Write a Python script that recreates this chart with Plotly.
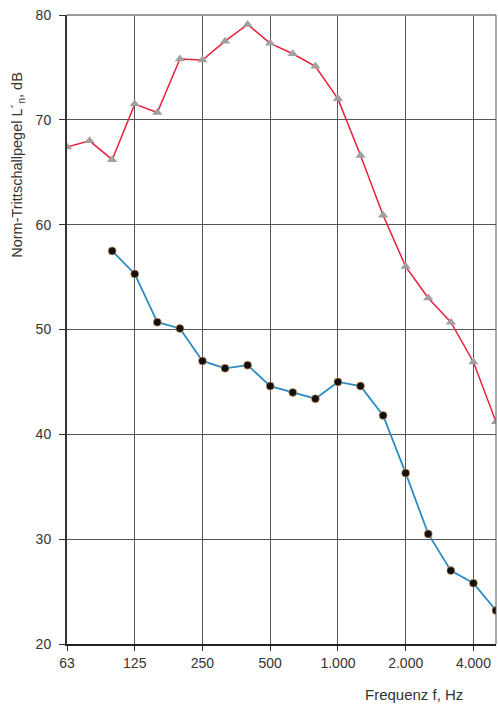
import plotly.graph_objects as go

bands = ["63", "80", "100", "125", "160", "200", "250", "315", "400", "500",
         "630", "800", "1.000", "1.250", "1.600", "2.000", "2.500", "3.150", "4.000", "5.000"]

red_values = [67.4, 68.0, 66.2, 71.5, 70.7, 75.8, 75.7, 77.5, 79.1, 77.3,
              76.3, 75.1, 72.0, 66.6, 60.9, 56.0, 53.0, 50.7, 46.9, 41.2]

blue_values = [None, None, 57.5, 55.3, 50.7, 50.1, 47.0, 46.3, 46.6, 44.6,
               44.0, 43.4, 45.0, 44.6, 41.8, 36.3, 30.5, 27.0, 25.8, 23.2]

tick_labels = ["63", "125", "250", "500", "1.000", "2.000", "4.000"]
tick_idx = [bands.index(t) for t in tick_labels]
y_ticks = [20, 30, 40, 50, 60, 70, 80]

x_idx = list(range(len(bands)))
FONT = "Liberation Sans, Arial, sans-serif"

fig = go.Figure()
fig.add_trace(go.Scatter(
    x=x_idx, y=red_values, mode="lines+markers",
    line=dict(color="#e8203a", width=1.5),
    marker=dict(symbol="triangle-up", size=9, color="#a0a0a0",
                line=dict(width=0)),
    cliponaxis=True, showlegend=False))
fig.add_trace(go.Scatter(
    x=x_idx, y=blue_values, mode="lines+markers",
    line=dict(color="#2b8cc4", width=1.8),
    marker=dict(symbol="circle", size=8, color="#111111",
                line=dict(width=1, color="rgba(245,170,90,0.6)")),
    connectgaps=False, cliponaxis=True, showlegend=False))

fig.update_layout(
    width=498, height=708,
    margin=dict(l=67, r=2, t=15, b=64),
    paper_bgcolor="white", plot_bgcolor="white",
    font=dict(family=FONT, size=14, color="#333333"),
    xaxis=dict(
        range=[0, len(bands) - 1], tickmode="array",
        tickvals=tick_idx, ticktext=tick_labels,
        showgrid=True, gridcolor="#555555", gridwidth=1,
        showline=True, linecolor="#222222", linewidth=2,
        ticks="outside", ticklen=5, tickcolor="#333333",
        tickfont=dict(size=14, color="#333333"),
        zeroline=False),
    yaxis=dict(
        range=[20, 80], tickmode="array", tickvals=y_ticks,
        showgrid=True, gridcolor="#555555", gridwidth=1,
        showline=True, linecolor="#333333", linewidth=2,
        ticks="outside", ticklen=6, tickcolor="#333333",
        ticklabelstandoff=5,
        tickfont=dict(size=14, color="#333333"),
        zeroline=False),
    shapes=[
        dict(type="line", xref="paper", yref="paper", x0=0, x1=1, y0=1, y1=1,
             line=dict(color="#9a9a9a", width=2)),
        dict(type="line", xref="paper", yref="paper", x0=1, x1=1, y0=0, y1=1,
             line=dict(color="#555555", width=1)),
    ],
    annotations=[
        dict(text="Frequenz f, Hz", xref="paper", yref="paper",
             x=0.809, y=-0.081, xanchor="center", yanchor="middle",
             showarrow=False, font=dict(size=15, color="#333333")),
        dict(text="Norm-Trittschallpegel L´<sub>n</sub>, dB", xref="paper", yref="paper",
             x=-0.114, y=0.762, xanchor="center", yanchor="middle", textangle=-90,
             showarrow=False, font=dict(size=14.5, color="#333333")),
    ],
)

fig.write_html("out.html", config={"displayModeBar": False, "staticPlot": True},
               post_script="document.body.style.margin='0';document.body.style.overflow='hidden';")
